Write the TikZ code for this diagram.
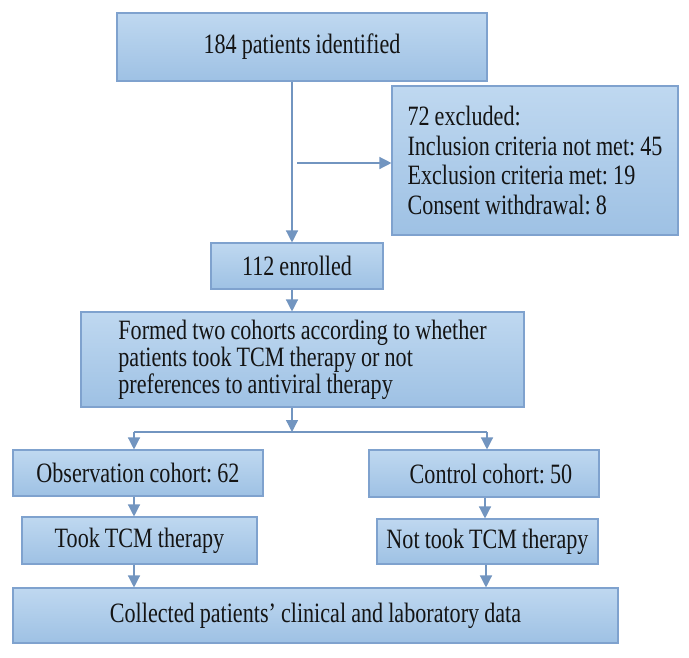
\documentclass[tikz,border=0pt]{standalone}
\usepackage{fontspec}
\setmainfont[FakeStretch=0.79,WordSpace=0.92]{Liberation Serif}
\usetikzlibrary{arrows.meta}
\definecolor{boxtop}{RGB}{191,216,240}
\definecolor{boxbot}{RGB}{158,193,228}
\definecolor{boxline}{RGB}{127,162,206}
\definecolor{arrowc}{RGB}{114,149,192}
\definecolor{txt}{RGB}{20,20,20}
\tikzset{
  box/.style={draw=boxline, line width=1.1pt, top color=boxtop, bottom color=boxbot,
    inner sep=0pt, text=txt, font=\fontsize{28}{27}\selectfont\frenchspacing},
  conn/.style={draw=arrowc, line width=1.3pt, -{Triangle[width=12pt,length=12pt]}},
  plain/.style={draw=arrowc, line width=1.3pt}
}
\begin{document}
\begin{tikzpicture}[x=1pt,y=1pt]
\useasboundingbox[fill=white] (0,0) rectangle (689,-657);
\node[box, minimum width=286, minimum height=149, align=left,
  font=\fontsize{28}{29.5}\selectfont\frenchspacing] (ex) at (535,-160.5)
  {72 excluded:\\Inclusion criteria not met: 45\\Exclusion criteria met: 19\\Consent withdrawal: 8};
\node[box, minimum width=370, minimum height=68] (b1) at (302,-47) {184 patients identified};
\node[box, minimum width=172, minimum height=46] (en) at (297,-266) {112 enrolled};
\node[box, minimum width=443, minimum height=95, align=left] (fo) at (302.5,-359.5)
  {Formed two cohorts according to whether\\patients took TCM therapy or not\\preferences to antiviral therapy};
\node[box, minimum width=250, minimum height=46] (ob) at (138,-473) {Observation cohort: 62};
\node[box, minimum width=230, minimum height=47] (co) at (484,-473.5) {\hspace*{14pt}Control cohort: 50};
\node[box, minimum width=235, minimum height=47] (tk) at (139.5,-540.5) {Took TCM therapy};
\node[box, minimum width=221, minimum height=45] (nt) at (487.5,-541.5) {Not took TCM therapy};
\node[box, minimum width=605, minimum height=55] (cl) at (315.5,-615.5) {Collected patients’ clinical and laboratory data};
% connectors
\coordinate (exs) at (297,-163);
\coordinate (j) at (292,-432);
\coordinate (jl) at (134,-432);
\coordinate (jr) at (487,-432);
\draw[conn] (b1.south -| 292,0) -- (en.north -| 292,0);
\draw[conn] (exs) -- (exs -| ex.west);
\draw[conn] (en.south -| 292,0) -- (fo.north -| 292,0);
\draw[conn] (fo.south -| 292,0) -- (j);
\draw[plain] (jl) -- (jr);
\draw[conn] (jl) -- (ob.north -| jl);
\draw[conn] (jr) -- (co.north -| jr);
\draw[conn] (ob.south -| 134,0) -- (tk.north -| 134,0);
\draw[conn] (tk.south -| 134,0) -- (cl.north -| 134,0);
\draw[conn] (co.south -| 485,0) -- (nt.north -| 485,0);
\draw[conn] (nt.south -| 486,0) -- (cl.north -| 486,0);
\end{tikzpicture}
\end{document}
